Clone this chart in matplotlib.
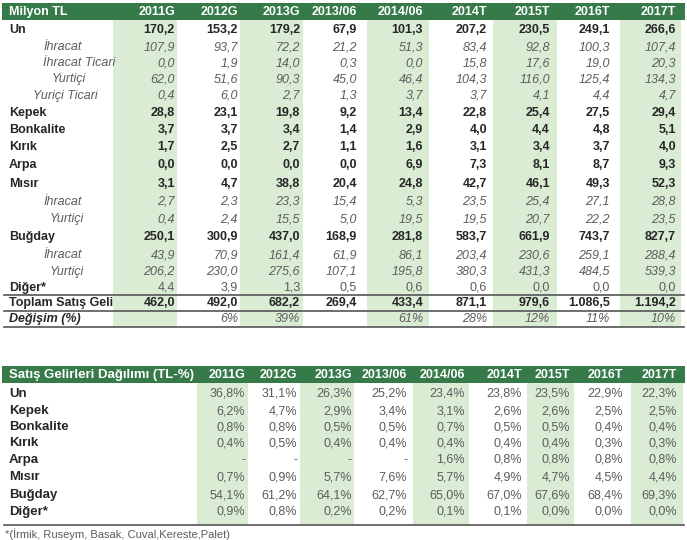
import matplotlib
matplotlib.use('Agg')
import matplotlib.pyplot as plt
from matplotlib.patches import Rectangle

plt.rcParams['font.family'] = ['Liberation Sans', 'DejaVu Sans']

# ---- data: upper table (Milyon TL) ----
periods = ['2011G', '2012G', '2013G', '2013/06', '2014/06', '2014T', '2015T', '2016T', '2017T']

un = [170.2, 153.2, 179.2, 67.9, 101.3, 207.2, 230.5, 249.1, 266.6]
un_ihracat = [107.9, 93.7, 72.2, 21.2, 51.3, 83.4, 92.8, 100.3, 107.4]
un_ihracat_ticari = [0.0, 1.9, 14.0, 0.3, 0.0, 15.8, 17.6, 19.0, 20.3]
un_yurtici = [62.0, 51.6, 90.3, 45.0, 46.4, 104.3, 116.0, 125.4, 134.3]
un_yurtici_ticari = [0.4, 6.0, 2.7, 1.3, 3.7, 3.7, 4.1, 4.4, 4.7]
kepek = [28.8, 23.1, 19.8, 9.2, 13.4, 22.8, 25.4, 27.5, 29.4]
bonkalite = [3.7, 3.7, 3.4, 1.4, 2.9, 4.0, 4.4, 4.8, 5.1]
kirik = [1.7, 2.5, 2.7, 1.1, 1.6, 3.1, 3.4, 3.7, 4.0]
arpa = [0.0, 0.0, 0.0, 0.0, 6.9, 7.3, 8.1, 8.7, 9.3]
misir = [3.1, 4.7, 38.8, 20.4, 24.8, 42.7, 46.1, 49.3, 52.3]
misir_ihracat = [2.7, 2.3, 23.3, 15.4, 5.3, 23.5, 25.4, 27.1, 28.8]
misir_yurtici = [0.4, 2.4, 15.5, 5.0, 19.5, 19.5, 20.7, 22.2, 23.5]
bugday = [250.1, 300.9, 437.0, 168.9, 281.8, 583.7, 661.9, 743.7, 827.7]
bugday_ihracat = [43.9, 70.9, 161.4, 61.9, 86.1, 203.4, 230.6, 259.1, 288.4]
bugday_yurtici = [206.2, 230.0, 275.6, 107.1, 195.8, 380.3, 431.3, 484.5, 539.3]
diger = [4.4, 3.9, 1.3, 0.5, 0.6, 0.6, 0.0, 0.0, 0.0]
toplam = [462.0, 492.0, 682.2, 269.4, 433.4, 871.1, 979.6, 1086.5, 1194.2]
degisim = [None, 6, 39, None, 61, 28, 12, 11, 10]

# ---- data: lower table (TL-%) ----
pct_labels = ['Un', 'Kepek', 'Bonkalite', 'Kırık', 'Arpa', 'Mısır', 'Buğday', 'Diğer*']
pct_un = [36.8, 31.1, 26.3, 25.2, 23.4, 23.8, 23.5, 22.9, 22.3]
pct_kepek = [6.2, 4.7, 2.9, 3.4, 3.1, 2.6, 2.6, 2.5, 2.5]
pct_bonkalite = [0.8, 0.8, 0.5, 0.5, 0.7, 0.5, 0.5, 0.4, 0.4]
pct_kirik = [0.4, 0.5, 0.4, 0.4, 0.4, 0.4, 0.4, 0.3, 0.3]
pct_arpa = [None, None, None, None, 1.6, 0.8, 0.8, 0.8, 0.8]
pct_misir = [0.7, 0.9, 5.7, 7.6, 5.7, 4.9, 4.7, 4.5, 4.4]
pct_bugday = [54.1, 61.2, 64.1, 62.7, 65.0, 67.0, 67.6, 68.4, 69.3]
pct_diger = [0.9, 0.8, 0.2, 0.2, 0.1, 0.1, 0.0, 0.0, 0.0]

footnote = '*(İrmik, Ruseym, Basak, Cuval,Kereste,Palet)'

# ---- styling ----
GREEN = '#357a48'
BAND = '#dbecd5'
BOLD_C = '#262626'
SUB_C = '#5c5c5c'
LINE_C = '#555555'
FS = 9
LX = 9   # left edge of main row labels


def tr_num(v):
    # Turkish number format: 1.086,5
    s = f'{v:,.1f}'
    return s.replace(',', '#').replace('.', ',').replace('#', '.')


fig = plt.figure(figsize=(6.87, 5.40), dpi=100)
ax = fig.add_axes([0, 0, 1, 1])
ax.set_xlim(0, 687)
ax.set_ylim(540, 0)
ax.axis('off')

# ================= upper table =================
top_val_x = [175, 238, 300, 357, 423, 487, 550, 610, 676]
top_bands = [(113, 177), (240, 303), (367, 429), (493, 557), (620, 681)]
for x0, x1 in top_bands:
    ax.add_patch(Rectangle((x0, 20), x1 - x0, 307, color=BAND, lw=0, zorder=0))
ax.add_patch(Rectangle((2, 3), 683, 17, color=GREEN, lw=0, zorder=1))
ax.text(LX, 12, 'Milyon TL', color='white', fontsize=FS, fontweight='bold',
        va='center', ha='left', zorder=2)
for x, p in zip(top_val_x, periods):
    ax.text(x, 12, p, color='white', fontsize=FS, fontweight='bold',
            va='center', ha='right', zorder=2)

# (label, values, kind, indent, y)
top_rows = [
    ('Un', un, 'bold', LX, 30),
    ('İhracat', un_ihracat, 'sub', 43, 47),
    ('İhracat Ticari', un_ihracat_ticari, 'sub', 43, 63),
    ('Yurtiçi', un_yurtici, 'sub', 52, 79),
    ('Yuriçi Ticari', un_yurtici_ticari, 'sub', 33, 96),
    ('Kepek', kepek, 'bold', LX, 113),
    ('Bonkalite', bonkalite, 'bold', LX, 130),
    ('Kırık', kirik, 'bold', LX, 147),
    ('Arpa', arpa, 'bold', LX, 165),
    ('Mısır', misir, 'bold', LX, 184),
    ('İhracat', misir_ihracat, 'sub', 43, 202),
    ('Yurtiçi', misir_yurtici, 'sub', 50, 219),
    ('Buğday', bugday, 'bold', LX, 237),
    ('İhracat', bugday_ihracat, 'sub', 43, 255),
    ('Yurtiçi', bugday_yurtici, 'sub', 50, 272),
    ('Diğer*', diger, 'plain', LX, 288),
    ('Toplam Satış Geli', toplam, 'bold', LX, 303),
]
for label, vals, kind, ind, y in top_rows:
    if kind == 'sub':
        lkw = dict(color=SUB_C, style='italic')
        vkw = dict(color=SUB_C, style='italic')
    elif kind == 'plain':
        lkw = dict(color=BOLD_C, fontweight='bold')
        vkw = dict(color=SUB_C)
    else:
        lkw = dict(color=BOLD_C, fontweight='bold')
        vkw = dict(color=BOLD_C, fontweight='bold')
    ax.text(ind, y, label, fontsize=FS, va='center', ha='left', **lkw)
    for x, v in zip(top_val_x, vals):
        ax.text(x, y, tr_num(v), fontsize=FS, va='center', ha='right', **vkw)

ax.text(LX, 319, 'Değişim (%)', fontsize=FS, color=BOLD_C, fontweight='bold',
        style='italic', va='center', ha='left')
for x, v in zip(top_val_x, degisim):
    if v is not None:
        ax.text(x, 319, f'{v}%', fontsize=FS, color=SUB_C, style='italic',
                va='center', ha='right')

for yl in (295, 311, 327):
    ax.plot([4, 684], [yl, yl], color=LINE_C, lw=1.2, zorder=3)

# ================= lower table =================
bot_val_x = [245, 297, 352, 407, 465, 522, 570, 623, 677]
bot_bands = [(197, 248), (300, 354), (413, 469), (527, 574), (631, 683)]
for x0, x1 in bot_bands:
    ax.add_patch(Rectangle((x0, 383), x1 - x0, 142, color=BAND, lw=0, zorder=0))
ax.add_patch(Rectangle((2, 366), 683, 17, color=GREEN, lw=0, zorder=1))
ax.text(LX, 375, 'Satış Gelirleri Dağılımı (TL-%)', color='white', fontsize=9.5,
        fontweight='bold', va='center', ha='left', zorder=2)
for x, p in zip(bot_val_x, periods):
    ax.text(x, 375, p, color='white', fontsize=FS, fontweight='bold',
            va='center', ha='right', zorder=2)

bot_values = [pct_un, pct_kepek, pct_bonkalite, pct_kirik, pct_arpa,
              pct_misir, pct_bugday, pct_diger]
bot_y = [394, 411, 427, 443, 460, 477, 495, 512]
for label, vals, y in zip(pct_labels, bot_values, bot_y):
    ax.text(LX, y, label, fontsize=9.5, color=BOLD_C, fontweight='bold',
            va='center', ha='left')
    for x, v in zip(bot_val_x, vals):
        txt = '-' if v is None else tr_num(v) + '%'
        ax.text(x, y, txt, fontsize=FS, color=SUB_C, va='center', ha='right')

ax.plot([4, 684], [525, 525], color=LINE_C, lw=1.2, zorder=3)
ax.text(5, 534, footnote, fontsize=8, color=SUB_C, va='center', ha='left')

fig.savefig('out.png', dpi=100)
